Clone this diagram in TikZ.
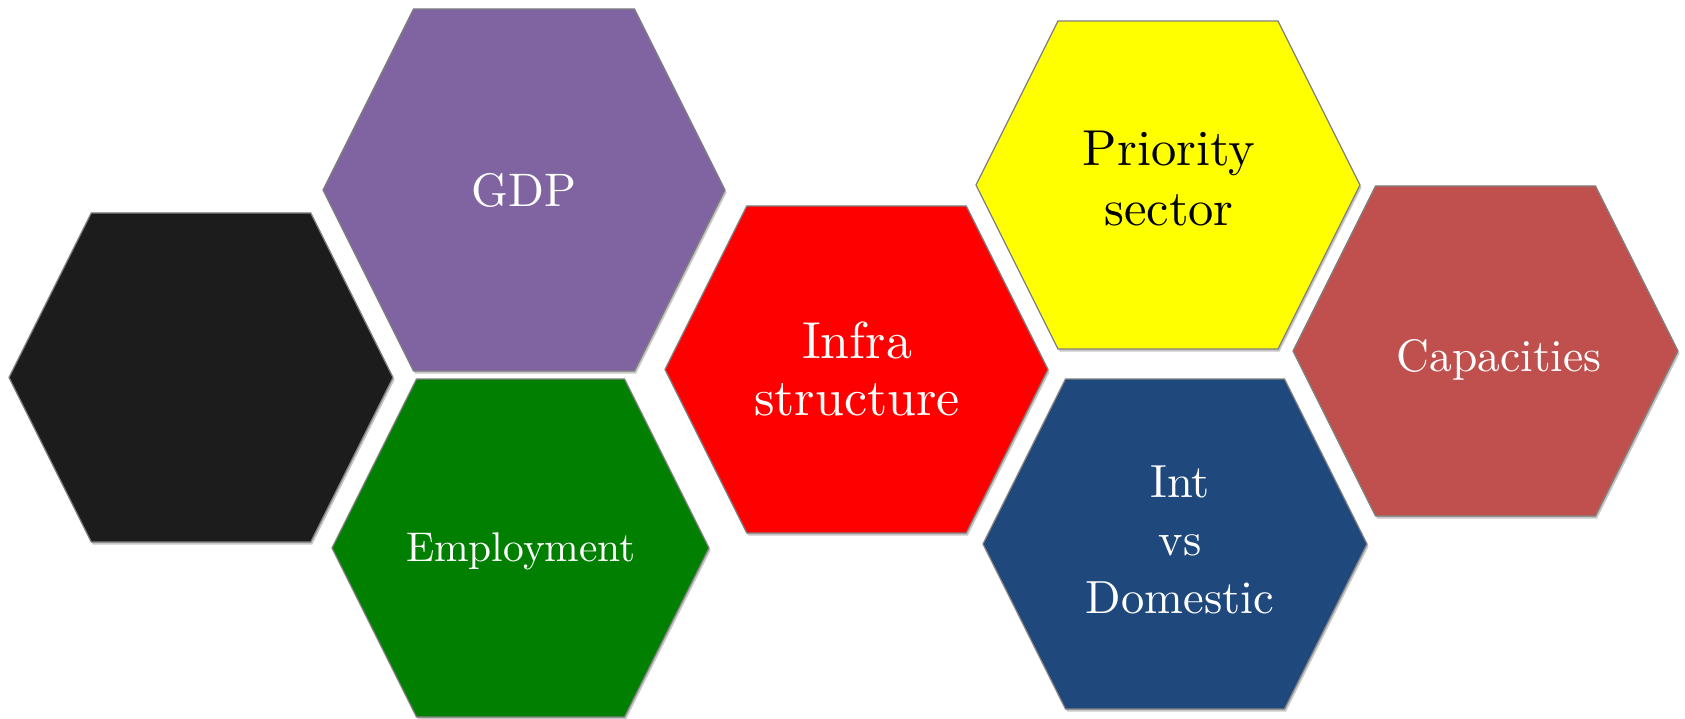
\documentclass[tikz,border=0pt]{standalone}
\usepackage{fontspec}
\newfontfamily\hexfont{lmroman10-regular}[Extension=.otf]
\definecolor{hexblack}{HTML}{1C1C1C}
\definecolor{hexpurple}{HTML}{8064A2}
\definecolor{hexgreen}{HTML}{007F00}
\definecolor{hexred}{HTML}{FF0000}
\definecolor{hexyellow}{HTML}{FFFF00}
\definecolor{hexblue}{HTML}{1F497D}
\definecolor{hexbrick}{HTML}{C0504D}
\definecolor{hexline}{HTML}{808080}
\newcommand\myhexpath[4]{({#1-#3},{#2}) -- ({#1-#3+#4/2},{#2-#4}) -- ({#1+#3-#4/2},{#2-#4}) -- ({#1+#3},{#2}) -- ({#1+#3-#4/2},{#2+#4}) -- ({#1-#3+#4/2},{#2+#4}) -- cycle}
\newcommand\myhex[5]{%
  \fill[hexshadow] [shift={(1.5,2.5)}] \myhexpath{#1}{#2}{#3}{#4};
  \path[hexcell, fill=#5] \myhexpath{#1}{#2}{#3}{#4};}
\tikzset{
  hexcell/.style={draw=hexline, line width=1.2pt, line join=miter},
  hexshadow/.style={fill=black, opacity=0.22},
  lbl/.style={anchor=base, inner sep=0pt, align=center, text=white},
}
\begin{document}
\begin{tikzpicture}[x=1pt,y=-1pt]
\useasboundingbox (0,0) rectangle (1685,719);
\fill[white] (0,0) rectangle (1685,719);
% hexagons: centre x, centre y, half width, half height, colour
\myhex{201}{377.5}{192}{164.5}{hexblack}
\myhex{524}{190}{201}{181}{hexpurple}
\myhex{520.5}{548}{188.5}{169}{hexgreen}
\myhex{856.5}{369.5}{191.5}{163.5}{hexred}
\myhex{1168}{185}{192}{164}{hexyellow}
\myhex{1175}{544}{192}{165}{hexblue}
\myhex{1485.5}{351}{192.5}{165}{hexbrick}
% labels (anchor = baseline of the last line)
\node[lbl, font=\hexfont\fontsize{47}{54}\selectfont] (gdp) at (524,207) {GDP};
\node[lbl, font=\hexfont\fontsize{41.5}{48}\selectfont] (emp) at (521,561) {Employment};
\node[lbl, font=\hexfont\fontsize{52}{57}\selectfont] (infra) at (857,415) {Infra\\structure};
\node[lbl, text=black, font=\hexfont\fontsize{50.5}{59.5}\selectfont] (prio) at (1169,225.5) {Priority\\sector};
\node[lbl, font=\hexfont\fontsize{46.5}{57.8}\selectfont] (intdom) at (1180,613.3) {Int\\vs\\Domestic};
\node[lbl, font=\hexfont\fontsize{45.5}{52}\selectfont] (cap) at (1499,371) {Capacities};
\end{tikzpicture}
\end{document}
